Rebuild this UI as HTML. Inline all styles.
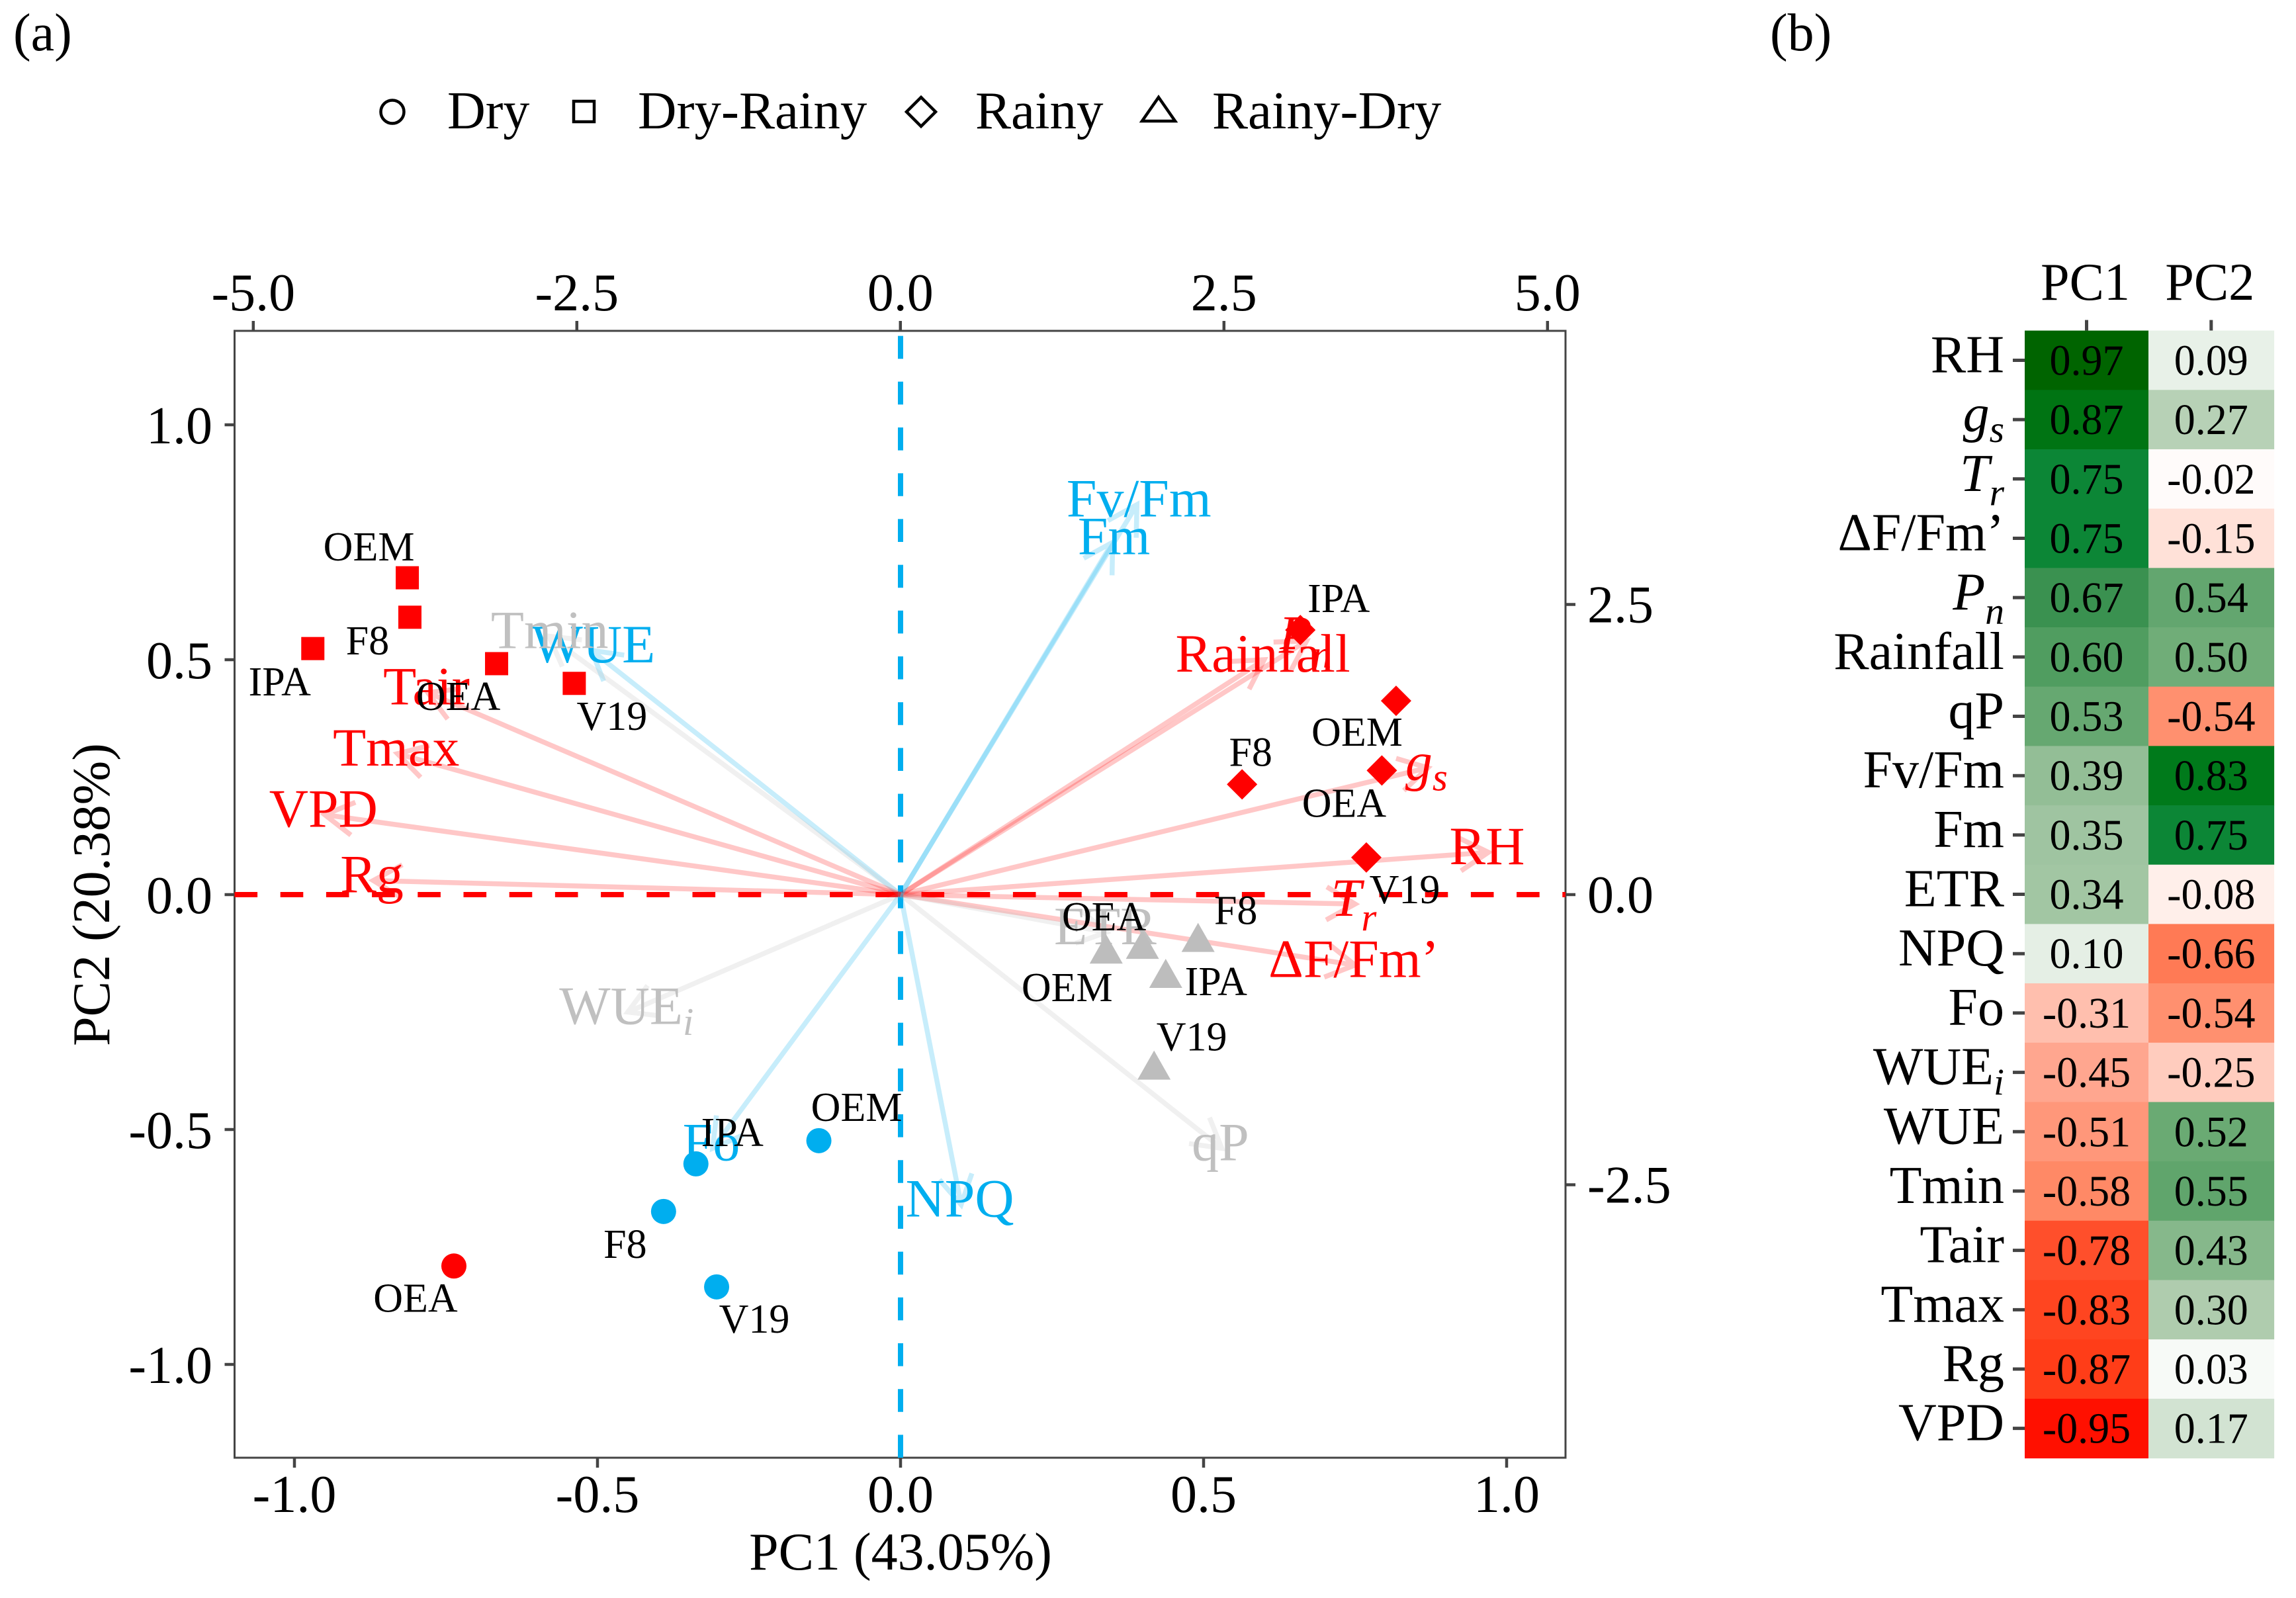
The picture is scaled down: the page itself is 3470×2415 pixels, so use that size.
<!DOCTYPE html>
<html lang="en">
<head>
<meta charset="utf-8">
<title>PCA biplot and loadings heatmap</title>
<style>
html,body{margin:0;padding:0;background:#fff;}
svg{display:block;font-family:"Liberation Serif",serif;}
</style>
</head>
<body>
<svg id="chart" xmlns="http://www.w3.org/2000/svg" width="3470" height="2415" viewBox="0 0 3470 2415">
  <rect x="0" y="0" width="3470" height="2415" fill="#ffffff"/>
  <text x="20" y="76" font-size="80">(a)</text>
  <text x="2675" y="76" font-size="80">(b)</text>

  <g>
    <g>
      <circle cx="593" cy="169" r="17.5" fill="#fff" stroke="#000" stroke-width="4.5"/>
      <text x="676" y="194" font-size="80">Dry</text>
    </g>
    <g>
      <rect x="867" y="153" width="31" height="31" fill="#fff" stroke="#000" stroke-width="4.5"/>
      <text x="964" y="194" font-size="81">Dry-Rainy</text>
    </g>
    <g>
      <path d="M1399 147L1421 169L1399 191L1377 169Z" transform="translate(-7,0)" fill="#fff" stroke="#000" stroke-width="4.5"/>
      <text x="1474" y="194" font-size="81">Rainy</text>
    </g>
    <g>
      <path d="M1760 147L1785 183L1735 183Z" transform="translate(-9,0)" fill="#fff" stroke="#000" stroke-width="4.5"/>
      <text x="1841" y="194" font-size="81" transform="translate(-9,0)">Rainy-Dry</text>
    </g>
  </g>

  <g id="biplot"></g>
  <g id="heatmap"></g>
</svg>

<script>
// ---------- data ----------
const variables = ['RH','gs','Tr','dF','Pn','Rainfall','qP','Fv/Fm','Fm','ETR','NPQ','Fo','WUEi','WUE','Tmin','Tair','Tmax','Rg','VPD'];
const pc1Loadings = [0.97,0.87,0.75,0.75,0.67,0.60,0.53,0.39,0.35,0.34,0.10,-0.31,-0.45,-0.51,-0.58,-0.78,-0.83,-0.87,-0.95];
const pc2Loadings = [0.09,0.27,-0.02,-0.15,0.54,0.50,-0.54,0.83,0.75,-0.08,-0.66,-0.54,-0.25,0.52,0.55,0.43,0.30,0.03,0.17];
const variableGroups = ['r','r','r','r','r','r','g','b','b','g','b','b','g','b','g','r','r','r','r'];
const heatColumns = ['PC1','PC2'];

const drySites = ['OEM','IPA','F8','OEA','V19'];
const dryPC1 = [-0.63,-1.58,-1.83,-3.45,-1.42];
const dryPC2 = [-2.12,-2.32,-2.73,-3.20,-3.38];

const dryRainySites = ['OEM','F8','IPA','OEA','V19'];
const dryRainyPC1 = [-3.81,-3.79,-4.54,-3.12,-2.52];
const dryRainyPC2 = [2.73,2.39,2.12,1.99,1.82];

const rainySites = ['IPA','OEM','F8','OEA','V19'];
const rainyPC1 = [3.09,3.83,2.64,3.72,3.60];
const rainyPC2 = [2.28,1.67,0.95,1.07,0.32];

const rainyDrySites = ['OEM','F8','OEA','IPA','V19'];
const rainyDryPC1 = [1.59,2.30,1.87,2.05,1.96];
const rainyDryPC2 = [-0.48,-0.38,-0.44,-0.69,-1.48];

const bottomTicks = [-1.0,-0.5,0.0,0.5,1.0];
const leftTicks = [1.0,0.5,0.0,-0.5,-1.0];
const topTicks = [-5.0,-2.5,0.0,2.5,5.0];
const rightTicks = [2.5,0.0,-2.5];

// ---------- layout ----------
const panel = {l:354.5, r:2366, t:500, b:2203};
const loadX = v => 1361 + 916 * v;
const loadY = v => 1352 - 710 * v;
const scoreX = v => 1360.8 + 195.6 * v;
const scoreY = v => 1352 - 175.4 * v;

const heat = {l:3060, t:499.6, colW:[187,189.6], rowH:89.68};

const NS = 'http://www.w3.org/2000/svg';
function make(parent, tag, attrs, txt){
  const e = document.createElementNS(NS, tag);
  for (const k in attrs) e.setAttribute(k, attrs[k]);
  if (txt !== undefined) e.textContent = txt;
  parent.appendChild(e);
  return e;
}
const slug = s => String(s).toLowerCase().replace(/[^a-z0-9]+/g,'-').replace(/^-|-$/g,'');
const fmtTick = v => v.toFixed(1);

const groupStroke = {r:'#ff0000', b:'#00aeef', g:'#bfbfbf'};
const groupText = {r:'#ff0000', b:'#00aeef', g:'#c0c0c0'};

// rich variable name: writes tspans for subscripts
function writeVariable(textEl, name, size){
  const subSize = size * 0.72;
  const rich = {
    gs:{base:'g', sub:'s', it:true, dy:0.2},
    Tr:{base:'T', sub:'r', it:true, dy:0.27},
    Pn:{base:'P', sub:'n', it:true, dy:0.27},
    WUEi:{base:'WUE', sub:'i', it:false, dy:0.2}
  };
  if (name === 'dF') { textEl.textContent = '\u0394F/Fm\u2019'; return; }
  const r = rich[name];
  if (!r) { textEl.textContent = name; return; }
  const a = make(textEl,'tspan',{'font-style': r.it ? 'italic' : 'normal'}, r.base);
  
  
  const b = make(textEl,'tspan',{'font-style':'italic','font-size':subSize,dy:size*r.dy}, r.sub);
  
  
}

// ---------- biplot ----------
const plot = document.getElementById('biplot');

const frame = make(plot,'rect',{x:panel.l,y:panel.t,width:panel.r-panel.l,height:panel.b-panel.t,fill:'none',stroke:'#444',"stroke-width":3});



const hLine = make(plot,'line',{x1:panel.l,y1:loadY(0),x2:panel.r,y2:loadY(0),stroke:'#ff0000','stroke-width':8,'stroke-dasharray':'34.6 34.6'});


const vLine = make(plot,'line',{x1:loadX(0),y1:panel.b,x2:loadX(0),y2:panel.t,stroke:'#00aeef','stroke-width':8,'stroke-dasharray':'34.6 34.6'});



// axes
function tickLabel(x, y, txt, anchor, nameStr){
  const t = make(plot,'text',{x:x,y:y,'font-size':80,'text-anchor':anchor,fill:'#000'},txt);
  
  
}
function tickMark(x1,y1,x2,y2,nameStr){
  const l = make(plot,'line',{x1:x1,y1:y1,x2:x2,y2:y2,stroke:'#444','stroke-width':4.5});
  
  
}
bottomTicks.forEach(v => {
  tickMark(loadX(v),panel.b,loadX(v),panel.b+15,'bottom-tick');
  tickLabel(loadX(v),2285,fmtTick(v),'middle','bottom-tick-label');
});
leftTicks.forEach(v => {
  tickMark(panel.l-15,loadY(v),panel.l,loadY(v),'left-tick');
  tickLabel(321,loadY(v)+28,fmtTick(v),'end','left-tick-label');
});
topTicks.forEach(v => {
  tickMark(scoreX(v),panel.t-15,scoreX(v),panel.t,'top-tick');
  tickLabel(scoreX(v),469,fmtTick(v),'middle','top-tick-label');
});
rightTicks.forEach(v => {
  tickMark(panel.r,scoreY(v),panel.r+15,scoreY(v),'right-tick');
  tickLabel(2399,scoreY(v)+27,fmtTick(v),'start','right-tick-label');
});
tickLabel(1361,2372,'PC1 (43.05%)','middle','x-axis-title');
const yTitle = make(plot,'text',{transform:'translate(165,1352) rotate(-90)','font-size':80,'text-anchor':'middle',fill:'#000'},'PC2 (20.38%)');



// arrows
const headLen = 50, headAngle = Math.PI/6;
variables.forEach((name,i) => {
  const x0 = loadX(0), y0 = loadY(0);
  const x1 = loadX(pc1Loadings[i]), y1 = loadY(pc2Loadings[i]);
  const a = Math.atan2(y1-y0, x1-x0);
  const bx1 = x1 - headLen*Math.cos(a-headAngle), by1 = y1 - headLen*Math.sin(a-headAngle);
  const bx2 = x1 - headLen*Math.cos(a+headAngle), by2 = y1 - headLen*Math.sin(a+headAngle);
  const p = make(plot,'path',{
    d:`M${x0} ${y0}L${x1} ${y1}M${bx1} ${by1}L${x1} ${y1}L${bx2} ${by2}`,
    fill:'none',stroke:groupStroke[variableGroups[i]],'stroke-width':7.5,'stroke-opacity':variableGroups[i]==='g'?0.24:0.22
  });
  
  
});
// arrow labels (label nudges are layout, in px, relative to the arrow tip)
const labelNudgeX = {'Fv/Fm':5,'Fm':4,'WUE':5,'Tmin':3};
variables.forEach((name,i) => {
  const nudge = labelNudgeX[name] || 0;
  const t = make(plot,'text',{x:loadX(pc1Loadings[i])-2+nudge,y:loadY(pc2Loadings[i])+18,'font-size':82,'text-anchor':'middle',fill:groupText[variableGroups[i]]});
  writeVariable(t,name,82);
  
  
});

// markers
function drawMarker(kind,x,y,fill,nameStr){
  let m;
  if (kind==='circle') m = make(plot,'circle',{cx:x,cy:y,r:19,fill:fill});
  else if (kind==='square') m = make(plot,'rect',{x:x-17.5,y:y-17.5,width:35,height:35,fill:fill});
  else if (kind==='diamond') m = make(plot,'path',{d:`M${x} ${y-23}L${x+23} ${y}L${x} ${y+23}L${x-23} ${y}Z`,fill:fill});
  else m = make(plot,'path',{d:`M${x} ${y-24}L${x+25} ${y+20}L${x-25} ${y+20}Z`,fill:fill});
  
  
}
const labelOffsets = {
  dry:{OEM:[57,-30],IPA:[55,-27],F8:[-58,70],OEA:[-58,69],V19:[57,69]},
  dryRainy:{OEM:[-58,-26],F8:[-64,56],IPA:[-50,71],OEA:[-58,70],V19:[57,70]},
  rainy:{IPA:[58,-27],OEM:[-59,68],F8:[13,-28],OEA:[-57,70],V19:[58,69]},
  rainyDry:{OEM:[-59,77],F8:[57,-22],OEA:[-58,-23],IPA:[76,31],V19:[57,-24]}
};
const labelQueue = [];
function drawSeries(key,kind,sites,xs,ys,fillFor){
  sites.forEach((site,i) => {
    const x = scoreX(xs[i]), y = scoreY(ys[i]);
    drawMarker(kind,x,y,fillFor(site),'point-' + slug(key) + '-' + slug(site));
    labelQueue.push({key:key,site:site,x:x,y:y});
  });
}
drawSeries('dry','circle',drySites,dryPC1,dryPC2,s => s==='OEA' ? '#ff0000' : '#00aeef');
drawSeries('dryRainy','square',dryRainySites,dryRainyPC1,dryRainyPC2,() => '#ff0000');
drawSeries('rainy','diamond',rainySites,rainyPC1,rainyPC2,() => '#ff0000');
drawSeries('rainyDry','triangle',rainyDrySites,rainyDryPC1,rainyDryPC2,() => '#bdbdbd');
labelQueue.forEach(q => {
  const o = labelOffsets[q.key][q.site];
  const t = make(plot,'text',{x:q.x+o[0],y:q.y+o[1],'font-size':62,'text-anchor':'middle',fill:'#000'},q.site);
  
  
});

// ---------- heatmap ----------
const hm = document.getElementById('heatmap');
const colorStops = [
  [-0.95,[255,16,0]],[-0.87,[255,61,24]],[-0.78,[255,79,43]],[-0.66,[255,122,85]],
  [-0.54,[255,144,111]],[-0.45,[255,166,143]],[-0.31,[255,191,174]],[-0.15,[255,225,216]],
  [0,[255,255,255]],[0.10,[229,239,229]],[0.30,[175,204,174]],[0.50,[112,173,120]],
  [0.67,[58,145,80]],[0.75,[12,134,54]],[0.83,[0,122,27]],[0.97,[0,100,0]]
];
function heatColor(v){
  if (v <= colorStops[0][0]) return `rgb(${colorStops[0][1].join(',')})`;
  for (let i=1;i<colorStops.length;i++){
    if (v <= colorStops[i][0]){
      const a = colorStops[i-1], b = colorStops[i];
      const f = (v-a[0])/(b[0]-a[0]);
      const c = a[1].map((u,j) => Math.round(u+(b[1][j]-u)*f));
      return `rgb(${c.join(',')})`;
    }
  }
  return `rgb(${colorStops[colorStops.length-1][1].join(',')})`;
}
const columnValues = [pc1Loadings, pc2Loadings];
let colX = heat.l;
heatColumns.forEach((col,c) => {
  const w = heat.colW[c];
  const mid = colX + w/2;
  const head = make(hm,'text',{transform:`translate(${mid-2},453) scale(0.98,1)`,'font-size':80,'text-anchor':'middle',fill:'#000'},col);
  
  
  const tk = make(hm,'line',{x1:mid,y1:heat.t-16,x2:mid,y2:heat.t,stroke:'#444','stroke-width':5});
  
  
  columnValues[c].forEach((v,r) => {
    const y = heat.t + r*heat.rowH;
    const cell = make(hm,'rect',{x:colX,y:y,width:w+0.5,height:heat.rowH+0.5,fill:heatColor(v)});
    
    
    const t = make(hm,'text',{transform:`translate(${mid},${y+heat.rowH/2+22}) scale(0.97,1)`,'font-size':66,'text-anchor':'middle',fill:'#000'},v.toFixed(2));
    
    
  });
  colX += w;
});
variables.forEach((name,r) => {
  const yc = heat.t + (r+0.5)*heat.rowH;
  const tk = make(hm,'line',{x1:heat.l-18,y1:yc,x2:heat.l,y2:yc,stroke:'#444','stroke-width':5});
  
  
  const t = make(hm,'text',{x:3029,y:yc+18,'font-size':80,'text-anchor':'end',fill:'#000'});
  writeVariable(t,name,80);
  
  
});
</script>
</body>
</html>
